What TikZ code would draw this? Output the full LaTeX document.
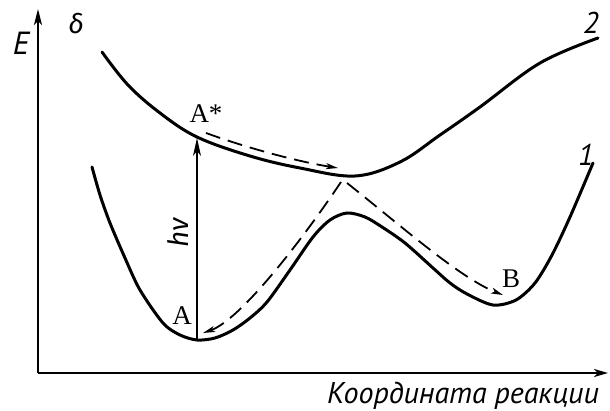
\documentclass[tikz,border=0pt]{standalone}
\usepackage{fontspec}
\setmainfont{Liberation Serif}
\newfontfamily\ptsans{PT Sans}
\newfontfamily\fira{Fira Sans}
\usetikzlibrary{arrows.meta}
\begin{document}
\begin{tikzpicture}[x=1pt,y=-1pt,
  curve/.style={line width=3pt, line cap=round},
  dpath/.style={line width=1.8pt, dash pattern=on 15pt off 8pt, -{Stealth[length=12pt,width=6pt,inset=3pt]}},
  axis/.style={line width=2pt},
  serlbl/.style={font=\fontsize{27}{27}\selectfont, inner sep=0pt},
  sanslbl/.style={font=\fontsize{30}{30}\ptsans\itshape, inner sep=0pt}]
\useasboundingbox (0,0) rectangle (610,411);
% axes
\coordinate (O) at (38,373);
\coordinate (Etop) at (38,9);
\coordinate (Xend) at (608,373);
\draw[axis, -{Stealth[length=16pt,width=8pt,inset=4pt]}] (O) -- (Etop);
\draw[axis, -{Stealth[length=14pt,width=8pt,inset=4pt]}] (O) -- (Xend);
% curve 2
\draw[curve] plot[smooth, tension=0.6] coordinates {(102,52) (128,85) (160,113) (197,137) (250,156) (300,168) (355,176) (400,162) (440,135) (480,107) (540,63) (598,38)};
% curve 1
\draw[curve] plot[smooth, tension=0.5] coordinates {(92,167) (100,195) (110,223) (125,258) (140,290) (163,323) (180,335) (197,340) (215,338) (233,330) (250,318) (267,302) (290,270) (313,237) (330,220) (347,213) (365,217) (382,227) (405,243) (433,268) (450,283) (467,294) (493,305) (516,300) (535,283) (552,255) (570,217) (593,163)};
% named points
\coordinate (Abot) at (197,340);
\coordinate (Atop) at (197,138);
\coordinate (Ast0) at (206,133);
\coordinate (Ast1) at (338,168);
\coordinate (apL) at (341,182);
\coordinate (apR) at (347,183);
\coordinate (Aend) at (203,333);
\coordinate (Bend) at (503,295);
% photon arrow
\draw[line width=1.5pt, -{Stealth[length=18pt,width=8pt,inset=5pt]}] (Abot) -- (Atop);
% dashed paths
\draw[dpath] (Ast0) .. controls (250,149) and (300,162) .. (Ast1);
\draw[dpath] (apL) .. controls (300,243) and (240,320) .. (Aend);
\draw[dpath] (apR) .. controls (400,225) and (460,278) .. (Bend);
% labels
\node[serlbl] (lA) at (182,316) {A};
\node[serlbl] (lAs) at (206,114) {A*};
\node[serlbl] (lB) at (511,279) {B};
\node[font=\fontsize{28}{28}\fira\itshape, inner sep=0pt, rotate=90] (hnu) at (178,233) {hν};
\node[sanslbl, font=\fontsize{32}{32}\ptsans\itshape] (lE) at (21,43) {E};
\node[font=\fontsize{27}{27}\fira\itshape, inner sep=0pt] (delta) at (76,24) {δ};
\node[sanslbl] (l2) at (591,23) {2};
\node[sanslbl] (l1) at (586,155) {1};
\node[sanslbl, anchor=base] (xlab) at (463,403) {Координата реакции};
\end{tikzpicture}
\end{document}
